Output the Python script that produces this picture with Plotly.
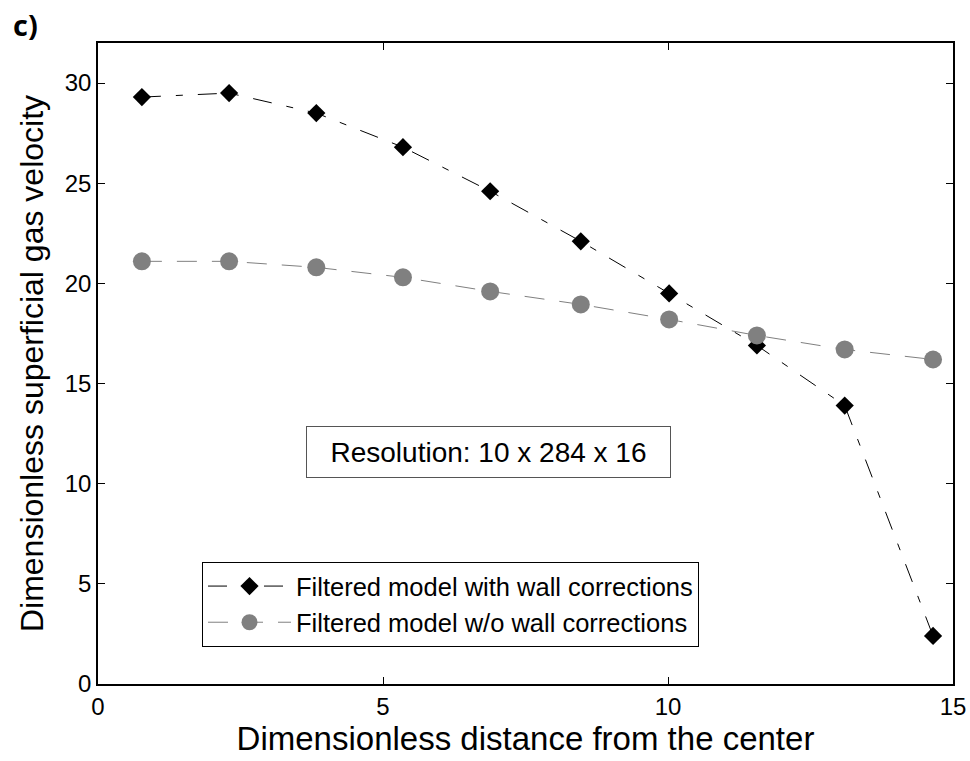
import plotly.graph_objects as go

x_vals = [0.77, 2.30, 3.83, 5.35, 6.88, 8.47, 10.02, 11.56, 13.10, 14.65]
with_wall = [29.3, 29.5, 28.5, 26.8, 24.6, 22.1, 19.5, 16.9, 13.9, 2.4]
without_wall = [21.1, 21.1, 20.8, 20.3, 19.6, 18.95, 18.2, 17.4, 16.7, 16.2]
x_ticks = [0, 5, 10, 15]
y_ticks = [0, 5, 10, 15, 20, 25, 30]

FONT = "Liberation Sans"

fig = go.Figure()
fig.add_trace(go.Scatter(
    x=x_vals, y=with_wall, mode="lines+markers",
    name="Filtered model with wall corrections",
    line=dict(color="black", width=1, dash="19px,15px,7px,15px"),
    marker=dict(symbol="diamond", size=14, color="black"),
))
fig.add_trace(go.Scatter(
    x=x_vals, y=without_wall, mode="lines+markers",
    name="Filtered model w/o wall corrections",
    line=dict(color="#808080", width=1, dash="20px,15px"),
    marker=dict(symbol="circle", size=18, color="#808080"),
))

axis_common = dict(
    showgrid=False, zeroline=False, showline=True, linecolor="black", linewidth=1.5,
    mirror="ticks", ticks="inside", ticklen=7, tickcolor="black", automargin=False,
    tickfont=dict(family=FONT, size=24, color="black"),
)
fig.update_xaxes(range=[0, 15], tickvals=x_ticks,
                 title=dict(text="Dimensionless distance from the center",
                            font=dict(family=FONT, size=33, color="black"), standoff=0),
                 **axis_common)
fig.update_yaxes(range=[0, 32], tickvals=y_ticks,
                 title=dict(text="Dimensionless superficial gas velocity",
                            font=dict(family=FONT, size=32, color="black"), standoff=12),
                 **axis_common)

fig.add_annotation(x=(488 - 98) / 855, y=11.6, xref="paper", yref="y", showarrow=False,
                   text="Resolution: 10 x 284 x 16",
                   font=dict(family=FONT, size=28, color="black"),
                   width=345, height=32, align="center",
                   bordercolor="#555555", borderwidth=1, borderpad=9, bgcolor="white")
fig.add_annotation(x=(11 - 98) / 855, y=1 + (43 - 25) / 641, xref="paper", yref="paper",
                   showarrow=False, xanchor="left", yanchor="middle",
                   text="<b>c)</b>", font=dict(family="Open Sans", size=29, color="black"))

fig.update_layout(
    width=970, height=761,
    margin=dict(l=98, r=17, t=43, b=77),
    paper_bgcolor="white", plot_bgcolor="white",
    showlegend=True,
    legend=dict(x=(202 - 98) / 855, y=(684 - 562) / 641, xanchor="left", yanchor="top",
                bordercolor="black", borderwidth=1, bgcolor="white",
                font=dict(family=FONT, size=25.5, color="black"),
                itemwidth=83, tracegroupgap=0),
)

fig.write_html("out.html")
